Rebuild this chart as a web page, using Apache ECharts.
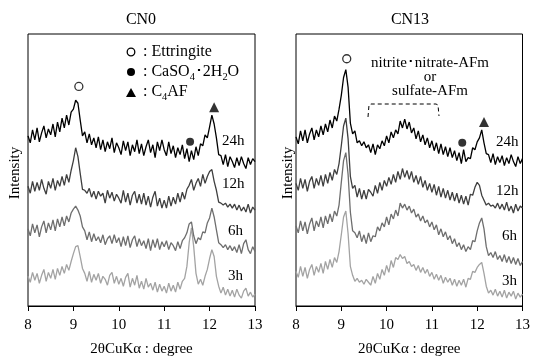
<!DOCTYPE html>
<html>
<head>
<meta charset="utf-8">
<script src="https://cdn.jsdelivr.net/npm/echarts@6/dist/echarts.min.js"></script>
<style>html,body{margin:0;padding:0;background:#fff}#c{width:533px;height:362px}</style>
</head>
<body>
<div id="c"></div>
<script>
// 2θ sampling grid (degrees)
const twoTheta = [8,8.05,8.1,8.15,8.2,8.25,8.3,8.35,8.4,8.45,8.5,8.55,8.6,8.65,8.7,8.75,8.8,8.85,8.9,8.95,9,9.05,9.1,9.15,9.2,9.25,9.3,9.35,9.4,9.45,9.5,9.55,9.6,9.65,9.7,9.75,9.8,9.85,9.9,9.95,10,10.05,10.1,10.15,10.2,10.25,10.3,10.35,10.4,10.45,10.5,10.55,10.6,10.65,10.7,10.75,10.8,10.85,10.9,10.95,11,11.05,11.1,11.15,11.2,11.25,11.3,11.35,11.4,11.45,11.5,11.55,11.6,11.65,11.7,11.75,11.8,11.85,11.9,11.95,12,12.05,12.1,12.15,12.2,12.25,12.3,12.35,12.4,12.45,12.5,12.55,12.6,12.65,12.7,12.75,12.8,12.85,12.9,12.95,13];
const xTicks = [8, 9, 10, 11, 12, 13];
const curingTimes = ['24h', '12h', '6h', '3h'];

// CN0 (stacked intensities, arbitrary units)
const cn0_24h = [172,165,178,168,180,166,175,182,170,179,173,184,171,186,176,190,180,193,183,196,199,208,205,188,172,176,165,174,163,170,160,171,158,168,156,166,159,170,155,165,160,153,167,157,166,152,163,156,168,154,164,152,161,168,155,163,150,166,157,168,158,152,166,154,162,150,160,153,163,149,159,146,157,148,161,152,164,162,173,170,181,193,184,170,153,152,143,153,141,151,146,140,150,142,151,144,139,150,143,149,146];
const cn0_12h = [121,114,126,116,125,117,128,119,113,126,119,129,117,127,121,131,122,133,125,137,147,160,151,134,118,117,114,119,110,116,108,116,111,114,104,117,109,115,106,113,109,104,117,105,114,102,112,116,104,113,103,114,102,111,100,110,116,101,109,99,107,99,111,101,110,103,114,105,115,108,118,122,128,117,124,129,121,133,124,131,136,138,126,117,105,104,102,104,100,103,99,103,97,102,96,100,95,103,94,100,97];
const cn0_6h = [78,71,83,74,82,70,80,86,74,84,77,87,76,88,80,90,81,91,85,94,98,101,97,91,80,76,67,75,65,73,66,70,64,72,62,68,71,63,72,64,69,60,70,61,71,59,67,71,60,68,61,66,58,68,56,67,59,68,57,65,60,66,57,64,61,56,65,58,66,69,74,83,85,71,63,69,67,75,74,84,89,99,90,77,64,62,59,62,57,61,56,60,54,62,53,63,67,57,53,60,55];
const cn0_3h = [30,24,34,26,33,23,31,37,25,34,28,37,27,38,31,40,33,42,36,45,53,60,61,50,38,33,25,35,24,32,26,33,23,30,27,21,31,34,23,30,22,28,20,29,33,19,28,21,31,18,25,17,28,19,23,16,24,14,22,15,20,13,23,15,21,14,24,17,25,28,40,64,79,60,33,22,27,21,30,37,48,57,50,30,20,13,19,11,17,10,16,9,17,11,8,15,18,10,14,9,12];

// CN13
const cn13_24h = [171,164,177,167,178,165,174,180,168,178,171,182,173,184,176,188,180,192,187,199,213,231,239,221,185,174,177,165,167,162,166,160,163,155,164,153,163,159,167,162,172,165,176,170,178,174,187,180,189,179,186,175,180,169,177,166,173,163,170,160,167,157,165,154,164,153,161,151,160,150,157,147,155,144,158,146,150,149,160,158,166,170,178,165,154,153,145,154,143,151,145,152,142,150,144,153,146,141,151,144,149];
const cn13_12h = [124,117,129,119,128,116,126,131,119,129,122,132,121,133,124,135,127,138,133,144,162,182,190,169,131,119,122,110,119,108,117,108,118,115,111,122,114,125,117,127,121,130,123,133,125,136,128,139,130,137,128,136,125,132,123,131,120,127,117,124,115,123,112,121,110,119,109,117,107,115,106,114,104,112,103,111,102,113,112,120,125,122,112,107,102,104,101,102,99,104,98,103,97,105,96,101,94,103,96,101,99];
const cn13_6h = [81,74,86,76,85,73,83,89,76,86,80,90,79,91,83,93,85,96,91,102,125,147,155,133,95,76,74,69,76,65,72,63,74,65,71,70,80,76,84,80,90,82,93,88,97,91,104,99,103,97,101,94,98,90,93,86,91,84,87,80,85,77,82,72,78,70,75,67,71,63,68,60,64,57,62,55,60,57,66,65,76,84,89,78,60,51,54,49,55,47,51,45,52,44,50,43,49,42,48,41,45];
const cn13_3h = [35,29,40,30,39,28,37,42,31,40,34,43,33,45,37,47,39,49,44,55,72,90,96,73,40,31,25,28,24,26,22,27,24,21,30,23,33,27,37,31,41,34,46,39,49,47,52,48,50,43,45,40,42,36,41,34,39,33,37,30,34,27,32,26,31,23,29,24,28,21,27,20,26,21,27,19,28,27,35,34,39,42,44,33,20,13,16,11,17,10,15,9,16,8,14,10,15,7,13,9,12];

// Peak markers [2θ, intensity]
const cn0_ettringite = [[9.12, 222]];
const cn0_gypsum = [[11.57, 166]];
const cn0_c4af = [[12.1, 201]];
const cn13_ettringite = [[9.12, 250]];
const cn13_gypsum = [[11.67, 165]];
const cn13_c4af = [[12.15, 186]];

const FONT = '"Liberation Serif", "Times New Roman", serif';
const lineColors = ['#000000', '#3f3f3f', '#6e6e6e', '#a3a3a3'];

function pairs(arr) { return twoTheta.map((x, i) => [x, arr[i]]); }

const grids = [
  {left: 28, top: 34, width: 227, height: 275, show: true, borderColor: '#000', borderWidth: 1},
  {left: 296, top: 34, width: 228, height: 275, show: true, borderColor: '#000', borderWidth: 1}
];
function xAx(g) {
  return {
    type: 'value', gridIndex: g, min: xTicks[0], max: xTicks[xTicks.length-1], interval: 1,
    axisLine: {show: true, lineStyle: {color: '#000', width: 1}},
    axisTick: {show: true, inside: false, length: 5, lineStyle: {color: '#000'}},
    axisLabel: {fontFamily: FONT, fontSize: 15, color: '#000', margin: 12},
    splitLine: {show: false},
    name: '2θCuKα : degree', nameLocation: 'middle', nameGap: 36,
    nameTextStyle: {fontFamily: FONT, fontSize: 15, color: '#000'}
  };
}
function yAx(g) {
  return {type: 'value', gridIndex: g, min: 0, max: 275, show: false, splitLine: {show: false}};
}
const panels = [
  [cn0_24h, cn0_12h, cn0_6h, cn0_3h],
  [cn13_24h, cn13_12h, cn13_6h, cn13_3h]
];
const series = [];
panels.forEach((p, g) => {
  p.forEach((arr, k) => {
    series.push({
      type: 'line', name: curingTimes[k], xAxisIndex: g, yAxisIndex: g,
      data: pairs(arr), showSymbol: false, symbol: 'none',
      lineStyle: {color: lineColors[k], width: 1.3}, z: 10 - k, silent: true
    });
  });
});
function marker(g, data, symbol, size, filled) {
  return {
    type: 'scatter', xAxisIndex: g, yAxisIndex: g, data: data, symbol: symbol, symbolSize: size,
    itemStyle: filled ? {color: '#000'} : {color: '#fff', borderColor: '#000', borderWidth: 1.3}, z: 20, silent: true
  };
}
series.push(marker(0, cn0_ettringite, 'circle', 8, false));
series.push(marker(0, cn0_gypsum, 'circle', 8, true));
series.push(marker(0, cn0_c4af, 'triangle', 10, true));
series.push(marker(1, cn13_ettringite, 'circle', 8, false));
series.push(marker(1, cn13_gypsum, 'circle', 8, true));
series.push(marker(1, cn13_c4af, 'triangle', 10, true));

function txt(x, y, text, size, align) {
  return {type: 'text', x: x, y: y, z: 50, style: {text: text, font: size + 'px ' + FONT, fill: '#000', textAlign: align || 'left', textVerticalAlign: 'middle'}};
}
function rich(x, y, text, size) {
  return {type: 'text', x: x, y: y, z: 50, style: {
    text: text, fill: '#000', textAlign: 'left', textVerticalAlign: 'middle',
    rich: {
      n: {fontSize: size, fontFamily: FONT, fill: '#000', lineHeight: 20},
      s: {fontSize: size * 0.65, fontFamily: FONT, fill: '#000', lineHeight: 20, verticalAlign: 'bottom'}
    }
  }};
}
const graphic = [
  txt(141, 20, 'CN0', 16, 'center'),
  txt(410, 20, 'CN13', 16, 'center'),
  {type: 'text', x: 15, y: 173, rotation: Math.PI/2, z: 50, style: {text: 'Intensity', font: '15px ' + FONT, fill: '#000', textAlign: 'center', textVerticalAlign: 'middle'}},
  {type: 'text', x: 288, y: 173, rotation: Math.PI/2, z: 50, style: {text: 'Intensity', font: '15px ' + FONT, fill: '#000', textAlign: 'center', textVerticalAlign: 'middle'}},
  // legend
  {type: 'circle', shape: {cx: 131, cy: 52, r: 3.8}, style: {fill: '#fff', stroke: '#000', lineWidth: 1.3}, z: 50},
  {type: 'circle', shape: {cx: 131, cy: 72, r: 4}, style: {fill: '#000'}, z: 50},
  {type: 'polygon', shape: {points: [[131, 88], [126, 97], [136, 97]]}, style: {fill: '#000'}, z: 50},
  txt(143, 52, ': Ettringite', 16),
  rich(143, 72, '{n|: CaSO}{s|4}{n|･2H}{s|2}{n|O}', 16),
  rich(143, 92, '{n|: C}{s|4}{n|AF}', 16),
  // curing time labels
  txt(222, 141, '24h', 15), txt(222, 184, '12h', 15), txt(228, 231, '6h', 15), txt(228, 276, '3h', 15),
  txt(496, 142, '24h', 15), txt(496, 191, '12h', 15), txt(502, 236, '6h', 15), txt(502, 281, '3h', 15),
  // AFm annotation
  txt(430, 63, 'nitrite･nitrate-AFm', 15, 'center'),
  txt(430, 77, 'or', 15, 'center'),
  txt(430, 91, 'sulfate-AFm', 15, 'center'),
  {type: 'polyline', shape: {points: [[368, 117], [369, 105], [371, 104], [436, 104], [438, 105], [439, 116]]},
   style: {stroke: '#000', lineWidth: 1, lineDash: [4, 3], fill: null}, z: 50}
];

const chart = echarts.init(document.getElementById('c'), null, {renderer: 'canvas'});
chart.setOption({
  animation: false,
  backgroundColor: '#fff',
  grid: grids,
  xAxis: [xAx(0), xAx(1)],
  yAxis: [yAx(0), yAx(1)],
  series: series,
  graphic: graphic
});
</script>
</body>
</html>
